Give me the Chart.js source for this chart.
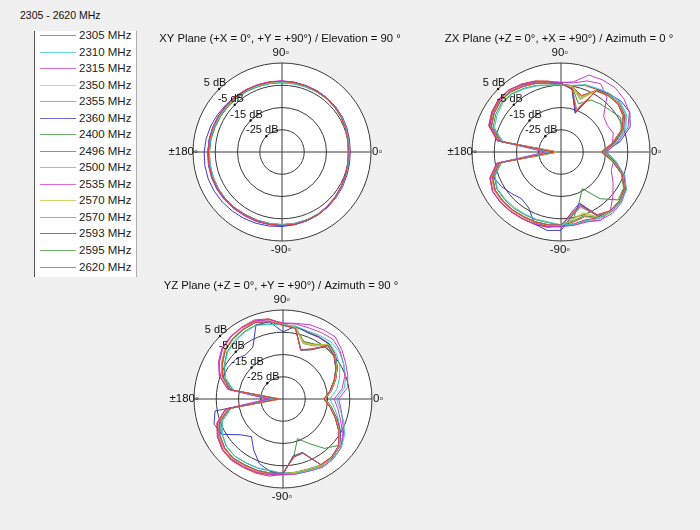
<!DOCTYPE html>
<html>
<head>
<meta charset="utf-8">
<script src="https://cdn.jsdelivr.net/npm/chart.js@4.4.0/dist/chart.umd.min.js"></script>
<style>
  body { margin: 0; background: #f0f0f0; font-family: "Liberation Sans", Arial, sans-serif; }
  #wrap { position: relative; width: 700px; height: 530px; overflow: hidden; }
  #band { position: absolute; left: 20px; top: 9px; font-size: 10.5px; color: #111; }
  #legend { position: absolute; left: 34px; top: 31px; width: 101px; height: 246px; background: #fff;
            border-left: 1px solid #555; border-right: 1px solid #aaa; overflow: hidden; }
  #legend .item { position: absolute; left: 0; height: 16px; font-size: 11.5px; color: #222; }
  #legend .sw { position: absolute; left: 5px; top: 8px; width: 36px; height: 1px; opacity: 0.75; }
  #legend .tx { position: absolute; left: 44px; top: 0; line-height: 16px; white-space: nowrap; }
  canvas { position: absolute; }
</style>
</head>
<body>
<div id="wrap">
  <div id="band">2305 - 2620 MHz</div>
  <div id="legend"></div>
  <canvas id="xy" width="280" height="250" style="left:142px;top:27px"></canvas>
  <canvas id="zx" width="280" height="250" style="left:421px;top:27px"></canvas>
  <canvas id="yz" width="280" height="250" style="left:143px;top:274px"></canvas>
</div>
<script>
// angles going clockwise from the top of each plot (deg)
var angles = [90,80,70,60,50,40,30,20,10,0,-10,-20,-30,-40,-50,-60,-70,-80,-90,-100,-110,-120,-130,-140,-150,-160,-170,180,170,160,150,140,130,120,110,100];
var freqLabels = ['2305 MHz','2310 MHz','2315 MHz','2350 MHz','2355 MHz','2360 MHz','2400 MHz','2496 MHz','2500 MHz','2535 MHz','2570 MHz','2570 MHz','2593 MHz','2595 MHz','2620 MHz'];
var lineColors = ['#e03c3c','#3cc8c8','#c83cc8','#c8c83c','#8c8c8c','#3c3cc8','#3c963c','#e03c3c','#3cc8c8','#c83cc8','#c8c83c','#8c8c8c','#3c3cc8','#3c963c','#e03c3c'];
var dbTicks = [5, -5, -15, -25];

// XY plane, dB
var xy2305 = [-3.2,-3.3,-3.4,-3.5,-3.6,-3.9,-4.2,-4.6,-5.0,-5.2,-5.0,-4.6,-4.1,-3.6,-3.0,-2.5,-2.3,-2.0,-2.0,-2.1,-2.2,-2.3,-2.1,-1.9,-1.7,-1.6,-1.7,-1.9,-2.0,-2.1,-2.3,-2.5,-2.7,-2.9,-3.0,-3.1];
var xy2310 = [-3.8,-3.9,-3.9,-3.8,-3.7,-3.8,-3.9,-4.3,-4.6,-4.8,-4.7,-4.4,-3.9,-3.4,-3.0,-2.7,-2.5,-2.4,-2.3,-2.3,-2.4,-2.4,-2.2,-2.0,-2.0,-2.1,-2.1,-2.3,-2.4,-2.6,-2.8,-3.0,-3.2,-3.3,-3.5,-3.7];
var xy2315 = [-3.0,-3.1,-3.3,-3.4,-3.5,-3.6,-3.8,-4.2,-4.6,-4.9,-4.9,-4.6,-4.2,-3.7,-3.2,-2.8,-2.5,-2.3,-2.1,-2.0,-1.9,-1.9,-1.8,-1.6,-1.5,-1.5,-1.6,-1.7,-1.8,-1.9,-2.1,-2.3,-2.4,-2.6,-2.8,-2.9];
var xy2350 = [-3.6,-3.6,-3.7,-3.8,-3.8,-4.0,-4.2,-4.6,-4.9,-5.1,-4.9,-4.5,-4.0,-3.5,-3.1,-2.7,-2.4,-2.3,-2.3,-2.2,-2.2,-2.1,-2.0,-1.9,-1.9,-1.9,-2.0,-2.1,-2.1,-2.3,-2.5,-2.7,-2.9,-3.1,-3.3,-3.5];
var xy2355 = [-3.4,-3.4,-3.5,-3.5,-3.6,-3.8,-4.1,-4.5,-4.9,-5.1,-4.8,-4.4,-3.9,-3.4,-2.9,-2.5,-2.3,-2.2,-2.2,-2.3,-2.3,-2.2,-2.0,-1.8,-1.7,-1.8,-1.9,-2.0,-2.0,-2.2,-2.4,-2.6,-2.8,-3.0,-3.2,-3.3];
var xy2360 = [-3.2,-3.2,-3.3,-3.3,-3.4,-3.5,-3.6,-3.9,-4.2,-4.3,-4.2,-4.0,-3.6,-3.2,-2.8,-2.4,-2.1,-1.8,-1.5,-1.2,-0.9,-0.6,-0.3,0.0,0.2,0.3,0.2,0.0,-0.4,-0.9,-1.5,-2.0,-2.4,-2.7,-3.0,-3.1];
var xy2400 = [-3.7,-3.7,-3.8,-3.8,-3.7,-3.8,-4.0,-4.4,-4.7,-4.9,-4.7,-4.3,-3.8,-3.4,-3.0,-2.6,-2.4,-2.3,-2.3,-2.3,-2.3,-2.3,-2.1,-1.9,-1.9,-2.0,-2.1,-2.3,-2.5,-2.8,-3.0,-3.2,-3.3,-3.4,-3.6,-3.7];
var xy2496 = [-3.3,-3.4,-3.4,-3.5,-3.5,-3.7,-4.0,-4.4,-4.8,-5.0,-4.9,-4.5,-4.0,-3.5,-3.0,-2.6,-2.3,-2.1,-2.1,-2.1,-2.1,-2.1,-1.9,-1.7,-1.7,-1.7,-1.8,-1.9,-2.0,-2.2,-2.3,-2.5,-2.7,-2.9,-3.1,-3.2];
var xy2500 = [-3.6,-3.7,-3.8,-3.7,-3.7,-3.9,-4.1,-4.5,-4.8,-5.0,-4.8,-4.5,-4.0,-3.5,-3.1,-2.7,-2.5,-2.4,-2.4,-2.4,-2.3,-2.3,-2.1,-1.9,-1.8,-1.8,-1.9,-2.1,-2.2,-2.4,-2.6,-2.8,-3.0,-3.2,-3.4,-3.5];
var xy2535 = [-3.1,-3.2,-3.3,-3.3,-3.4,-3.6,-3.9,-4.3,-4.7,-5.0,-4.9,-4.7,-4.3,-3.8,-3.3,-2.8,-2.5,-2.2,-2.0,-1.9,-1.8,-1.8,-1.7,-1.5,-1.4,-1.4,-1.5,-1.7,-1.8,-2.0,-2.2,-2.4,-2.5,-2.7,-2.9,-3.0];
var xy2570a = [-3.5,-3.6,-3.6,-3.7,-3.7,-3.9,-4.1,-4.5,-4.8,-5.0,-4.8,-4.4,-3.9,-3.4,-3.0,-2.6,-2.4,-2.3,-2.2,-2.2,-2.2,-2.2,-2.0,-1.8,-1.8,-1.8,-1.9,-2.0,-2.1,-2.3,-2.5,-2.7,-2.9,-3.1,-3.3,-3.4];
var xy2570b = [-3.4,-3.5,-3.5,-3.6,-3.6,-3.8,-4.0,-4.5,-4.9,-5.1,-4.9,-4.5,-4.0,-3.5,-3.0,-2.6,-2.3,-2.2,-2.1,-2.2,-2.2,-2.2,-2.0,-1.8,-1.8,-1.7,-1.8,-2.0,-2.0,-2.2,-2.4,-2.6,-2.8,-3.0,-3.2,-3.3];
var xy2593 = [-3.3,-3.3,-3.4,-3.4,-3.5,-3.7,-3.9,-4.3,-4.7,-4.9,-4.7,-4.3,-3.9,-3.4,-2.9,-2.5,-2.2,-2.0,-1.9,-1.9,-1.8,-1.8,-1.6,-1.4,-1.3,-1.3,-1.4,-1.6,-1.8,-2.0,-2.3,-2.5,-2.7,-2.9,-3.1,-3.2];
var xy2595 = [-3.9,-3.9,-3.9,-3.8,-3.8,-3.9,-4.1,-4.5,-4.8,-5.0,-4.8,-4.4,-3.9,-3.4,-3.0,-2.7,-2.5,-2.4,-2.4,-2.4,-2.4,-2.4,-2.2,-2.0,-2.0,-2.1,-2.2,-2.4,-2.6,-2.9,-3.1,-3.3,-3.4,-3.5,-3.7,-3.8];
var xy2620 = [-3.4,-3.4,-3.5,-3.5,-3.6,-3.8,-4.1,-4.6,-5.0,-5.2,-5.0,-4.6,-4.0,-3.5,-3.0,-2.6,-2.3,-2.1,-2.1,-2.1,-2.1,-2.1,-1.9,-1.7,-1.6,-1.6,-1.7,-1.9,-2.0,-2.2,-2.4,-2.6,-2.8,-3.0,-3.2,-3.3];

// ZX plane, dB
var zx2305 = [-4.3,-6.0,-15.5,-3.2,-1.8,-1.5,-2.6,-5.8,-11.0,-16.5,-11.5,-5.8,-2.0,-0.8,-0.5,-2.5,-9.5,-7.0,-2.2,-1.7,-1.5,-1.4,-1.0,-0.8,-0.7,-2.2,-6.8,-32,-7.2,-1.6,-0.2,0.6,0.3,-0.9,-2.1,-3.6];
var zx2310 = [-4.8,-4.6,-2.8,-2.0,-0.8,-0.2,-1.0,-4.0,-9.5,-15.0,-10.0,-4.5,-1.0,0.2,0.3,-0.5,-2.2,-2.0,-2.3,-3.0,-2.8,-2.7,-2.4,-2.2,-2.0,-3.5,-8.0,-30,-8.5,-3.2,-1.8,-0.8,-1.0,-2.2,-3.4,-4.6];
var zx2315 = [-3.8,-3.0,1.8,2.4,2.8,2.0,0.5,-3.0,-9.0,-14.5,-9.8,-4.8,-1.2,0.5,1.0,0.3,-1.5,-1.5,-1.6,-1.0,-0.6,-0.5,-0.1,0.2,0.4,-1.2,-6.0,-29,-6.2,-0.8,0.6,1.5,1.2,0.0,-1.4,-3.0];
var zx2350 = [-4.6,-5.2,-9.0,-3.0,-1.6,-1.2,-2.4,-5.5,-11.0,-16.0,-11.0,-5.4,-1.8,-0.4,-0.2,-1.0,-5.5,-4.0,-2.0,-1.5,-1.3,-1.2,-0.8,-0.6,-0.5,-1.9,-6.4,-33,-6.8,-1.4,0.1,0.9,0.5,-0.7,-1.9,-3.4];
var zx2355 = [-4.4,-5.8,-14.5,-3.4,-2.0,-1.6,-2.8,-6.2,-11.5,-17.0,-11.8,-6.0,-2.2,-0.9,-0.6,-2.0,-9.0,-6.5,-2.3,-1.8,-1.6,-1.5,-1.1,-0.9,-0.8,-2.3,-7.0,-34,-7.4,-1.8,-0.3,0.5,0.2,-1.0,-2.2,-3.7];
var zx2360 = [-4.0,-6.5,-16.5,-2.6,-1.0,0.4,0.7,-1.9,-8.0,-15.5,-10.5,-5.0,-1.5,-0.2,0.0,-1.5,-10.0,-6.0,0.2,0.8,-0.5,-6.0,-7.5,-6.0,-4.0,-2.5,-6.0,-31,-6.5,-0.8,0.4,1.0,0.5,-0.5,-1.6,-3.2];
var zx2400 = [-4.7,-5.0,-8.5,-3.2,-2.0,-1.4,-2.6,-6.0,-11.5,-16.5,-11.3,-5.9,-2.1,-0.7,-0.4,-1.2,-4.5,-3.5,-2.2,-2.7,-2.5,-2.4,-2.0,-1.8,-1.7,-3.1,-7.7,-32,-8.0,-2.6,-1.1,-0.3,-0.7,-1.9,-3.1,-4.5];
var zx2496 = [-4.4,-4.8,-3.2,-2.6,-1.4,-1.0,-2.0,-5.2,-10.5,-15.5,-10.8,-5.3,-1.6,-0.3,-0.1,-0.8,-2.6,-2.2,-1.9,-0.6,-0.4,-0.3,0.1,0.4,0.5,-1.0,-5.5,-33,-5.8,-0.4,1.0,1.8,1.5,0.3,-1.0,-2.6];
var zx2500 = [-4.9,-4.7,-3.0,-2.3,-1.0,-0.5,-1.4,-4.6,-10.0,-15.0,-10.2,-4.8,-1.3,0.0,0.2,-0.6,-2.4,-2.1,-2.2,-1.8,-1.6,-1.5,-1.1,-0.9,-0.8,-2.2,-6.8,-31,-7.2,-1.8,-0.3,0.5,0.3,-0.9,-2.2,-3.7];
var zx2535 = [-3.6,-3.5,-1.0,0.5,-3.0,-10.0,-11.0,-10.0,-11.5,-15.5,-11.0,-11.0,-8.0,-4.5,-0.5,0.5,-1.8,-1.8,-1.4,-0.8,-0.4,-0.3,0.1,0.4,0.6,-1.0,-5.8,-28,-6.0,-0.6,0.8,1.6,1.3,0.2,-1.2,-2.9];
var zx2570a = [-4.5,-5.4,-10.0,-3.4,-1.9,-1.5,-2.7,-5.9,-11.2,-16.2,-11.2,-5.6,-1.9,-0.6,-0.3,-1.3,-6.0,-4.5,-2.1,-1.6,-1.4,-1.3,-0.9,-0.7,-0.6,-2.0,-6.6,-32,-7.0,-1.5,0.0,0.8,0.4,-0.8,-2.0,-3.5];
var zx2570b = [-4.6,-5.5,-9.5,-3.1,-1.7,-1.3,-2.5,-5.7,-11.0,-16.0,-11.4,-5.8,-2.0,-0.7,-0.4,-1.8,-8.5,-6.0,-2.1,-1.6,-1.4,-1.3,-0.9,-0.7,-0.6,-2.1,-6.7,-33,-7.1,-1.6,0.0,0.8,0.4,-0.8,-2.0,-3.6];
var zx2593 = [-4.2,-6.2,-16.0,-3.0,-1.6,-1.0,-2.0,-5.0,-10.5,-16.5,-11.2,-5.5,-1.8,-0.5,-0.2,-2.2,-10.5,-7.5,-1.4,-1.0,-1.2,-1.4,-1.0,-0.8,-0.7,-2.1,-6.5,-32,-6.8,-1.3,0.2,0.9,0.4,-0.7,-1.9,-3.4];
var zx2595 = [-4.8,-5.5,-12.0,-8.0,-7.0,-6.0,-4.0,-6.2,-11.5,-17.0,-11.5,-6.0,-2.5,-1.5,-7.6,-16.0,-11.0,-4.0,-2.3,-1.8,-1.6,-1.5,-1.1,-0.9,-0.8,-2.3,-7.0,-31,-7.3,-1.7,-0.2,0.6,0.2,-1.0,-2.2,-3.8];
var zx2620 = [-4.4,-5.2,-8.0,-2.9,-1.5,-1.1,-2.2,-5.4,-10.8,-15.8,-10.9,-5.5,-1.7,-0.4,-0.1,-1.0,-4.0,-3.0,-1.9,-1.4,-1.2,-1.1,-0.7,-0.5,-0.4,-1.8,-6.3,-33,-6.7,-1.2,0.3,1.1,0.6,-0.6,-1.8,-3.3];

// YZ plane, dB
var yz2305 = [-1.8,-2.8,-11.5,-9.0,-3.5,-4.8,-7.5,-10.5,-13.5,-16.5,-13.5,-10.0,-6.0,-2.4,-1.0,-1.0,-9.0,-8.5,-1.6,-1.1,-0.8,-0.7,-0.2,-0.7,-2.2,-4.7,-10.2,-33,-11.2,-6.2,-3.4,-1.0,0.2,1.0,1.6,0.3];
var yz2310 = [-1.6,-1.8,-2.5,-2.0,-1.5,-2.0,-3.5,-5.0,-7.0,-11.0,-9.0,-6.0,-3.0,-0.8,0.0,0.2,-0.8,-1.0,-1.5,-2.4,-2.0,-1.9,-1.4,-1.9,-3.5,-6.0,-11.5,-31,-12.5,-7.6,-4.8,-2.5,-1.3,-0.4,0.2,-1.0];
var yz2315 = [-0.8,-0.5,0.5,1.0,1.5,-0.5,-2.5,-4.0,-5.5,-10.0,-8.5,-6.5,-3.5,-1.0,0.2,0.5,-0.5,-0.8,-1.0,-0.5,0.0,0.2,0.6,0.3,-1.4,-3.8,-9.0,-29,-10.0,-4.8,-1.8,0.5,1.5,2.0,2.2,1.2];
var yz2350 = [-1.5,-2.2,-8.0,-7.0,-3.0,-4.5,-7.0,-10.0,-13.0,-16.0,-13.0,-9.6,-5.6,-2.0,-0.8,-0.5,-1.4,-1.5,-1.4,-0.9,-0.6,-0.5,0.0,-0.5,-2.0,-4.5,-10.0,-33,-11.0,-6.0,-3.2,-0.8,0.3,1.2,1.8,0.5];
var yz2355 = [-1.7,-2.6,-11.8,-9.2,-3.6,-4.9,-7.4,-10.4,-13.4,-16.4,-13.2,-9.8,-5.8,-2.2,-0.9,-0.8,-9.4,-8.6,-1.6,-1.1,-0.7,-0.6,-0.1,-0.6,-2.1,-4.6,-10.1,-34,-11.1,-6.1,-3.3,-0.9,0.2,1.1,1.7,0.4];
var yz2360 = [-4.8,-1.8,-3.2,-3.0,-2.8,-4.2,-6.8,-10.0,-13.0,-16.0,-12.8,-9.2,-5.2,-1.8,-0.6,-0.8,-9.5,-9.0,-1.0,-2.0,-4.0,-8.6,-12.9,-10.0,-3.3,-2.0,-4.0,-31,-10.5,-6.3,-6.5,-7.3,-9.0,-8.0,0.5,0.2];
var yz2400 = [-1.6,-2.4,-7.5,-6.5,-3.2,-4.6,-7.2,-10.2,-13.2,-16.2,-13.1,-9.7,-5.7,-2.1,-0.9,-0.6,-1.5,-1.6,-1.5,-2.2,-1.9,-1.8,-1.3,-1.8,-3.3,-5.8,-11.0,-32,-12.0,-7.2,-4.5,-2.1,-1.0,-0.1,0.5,-0.8];
var yz2496 = [-1.4,-2.1,-2.8,-2.7,-2.7,-4.3,-6.8,-9.8,-12.8,-15.8,-12.8,-9.3,-5.3,-1.8,-0.6,-0.3,-1.2,-1.2,-1.2,0.2,0.5,0.6,1.1,0.6,-0.9,-3.3,-8.8,-33,-9.8,-4.8,-2.0,0.4,1.4,2.2,2.8,1.6];
var yz2500 = [-1.7,-2.3,-3.0,-2.6,-2.4,-3.5,-5.5,-8.0,-10.5,-14.0,-11.5,-8.5,-5.0,-1.9,-0.8,-0.5,-1.4,-1.5,-1.6,-1.2,-0.9,-0.8,-0.3,-0.8,-2.3,-4.8,-10.3,-31,-11.3,-6.4,-3.6,-1.2,0.0,0.9,1.5,0.2];
var yz2535 = [-1.0,-0.8,-1.0,-0.5,0.0,-1.5,-3.5,-5.5,-8.0,-12.0,-10.0,-7.5,-4.0,-1.0,0.0,0.3,-0.6,-0.8,-0.9,-0.4,0.1,0.3,0.7,0.5,-1.2,-3.6,-8.8,-28,-9.8,-4.5,-1.5,0.8,1.7,2.2,2.3,1.4];
var yz2570a = [-1.6,-2.3,-8.2,-7.2,-3.1,-4.6,-7.1,-10.1,-13.1,-16.1,-13.1,-9.6,-5.6,-2.0,-0.8,-0.5,-1.3,-1.4,-1.4,-0.9,-0.6,-0.5,0.0,-0.5,-2.0,-4.5,-10.0,-32,-11.0,-6.0,-3.2,-0.8,0.3,1.2,1.8,0.5];
var yz2570b = [-1.5,-2.4,-8.5,-7.5,-3.3,-4.7,-7.3,-10.3,-13.3,-16.3,-13.3,-9.8,-5.8,-2.2,-1.0,-0.7,-1.6,-1.6,-1.5,-1.0,-0.7,-0.6,-0.1,-0.6,-2.1,-4.6,-10.1,-33,-11.1,-6.1,-3.3,-0.9,0.2,1.1,1.7,0.4];
var yz2593 = [-1.9,-2.7,-11.7,-9.5,-3.7,-5.0,-7.5,-10.5,-13.5,-16.5,-13.4,-9.9,-5.9,-2.3,-1.0,-0.9,-9.2,-8.4,-1.7,-1.2,-0.8,-0.7,-0.2,-0.7,-2.2,-4.7,-10.2,-32,-11.2,-6.2,-3.4,-1.0,0.1,1.0,1.6,0.3];
var yz2595 = [-1.7,-2.5,-11.5,-9.0,-4.5,-5.2,-7.6,-10.6,-13.6,-16.6,-13.5,-10.0,-6.0,-2.5,-6.0,-12.0,-16.0,-8.0,-1.7,-1.2,-0.9,-0.8,-0.3,-0.8,-2.3,-4.8,-10.3,-31,-11.3,-6.3,-3.5,-1.1,0.1,1.0,1.6,0.3];
var yz2620 = [-1.4,-2.2,-7.8,-6.8,-2.9,-4.4,-6.9,-9.9,-12.9,-15.9,-12.9,-9.4,-5.4,-1.9,-0.7,-0.4,-1.3,-1.3,-1.3,-0.8,-0.5,-0.4,0.1,-0.4,-1.9,-4.4,-9.9,-33,-10.9,-5.9,-3.1,-0.7,0.4,1.3,1.9,0.6];

var xySeries = [xy2305, xy2310, xy2315, xy2350, xy2355, xy2360, xy2400, xy2496, xy2500, xy2535, xy2570a, xy2570b, xy2593, xy2595, xy2620];
var zxSeries = [zx2305, zx2310, zx2315, zx2350, zx2355, zx2360, zx2400, zx2496, zx2500, zx2535, zx2570a, zx2570b, zx2593, zx2595, zx2620];
var yzSeries = [yz2305, yz2310, yz2315, yz2350, yz2355, yz2360, yz2400, yz2496, yz2500, yz2535, yz2570a, yz2570b, yz2593, yz2595, yz2620];

// legend on the left (clipped at the top like the original list box)
var leg = document.getElementById('legend');
freqLabels.forEach(function (name, k) {
  var it = document.createElement('div');
  it.className = 'item';
  it.style.top = Math.round(-4 + k * 16.54) + 'px';
  it.innerHTML = '<span class="sw" style="background:' + lineColors[k] + '"></span><span class="tx">' + name + '</span>';
  leg.appendChild(it);
});

var FONT = '"Liberation Sans", Arial, sans-serif';

// titles, angle labels and dB labels drawn around each polar scale
var polarText = {
  id: 'polarText',
  afterDraw: function (chart, args, opts) {
    var s = chart.scales.r, ctx = chart.ctx;
    var cx = s.xCenter, cy = s.yCenter, R = s.drawingArea;
    ctx.save();
    ctx.fillStyle = '#111';
    ctx.textBaseline = 'middle';
    ctx.font = '11.3px ' + FONT;
    ctx.textAlign = 'center';
    ctx.fillText(opts.title, cx - 2, cy - R - 24);

    ctx.font = '11.5px ' + FONT;
    ctx.fillText('90\u25E6', cx - 1, cy - R - 10);
    ctx.fillText('-90\u25E6', cx - 1, cy + R + 9);
    ctx.textAlign = 'left';
    ctx.fillText('0\u25E6', cx + R + 1, cy);
    ctx.textAlign = 'right';
    ctx.fillText('\u00B1180\u25E6', cx - R + 5, cy);

    // dB rings are labelled along the 135 deg direction (index 31.5 clockwise from top)
    ctx.font = '11px ' + FONT;
    ctx.textAlign = 'center';
    dbTicks.forEach(function (v) {
      var p = s.getPointPosition(31.5, s.getDistanceFromCenterForValue(v));
      ctx.beginPath();
      ctx.arc(p.x, p.y, 1.2, 0, Math.PI * 2);
      ctx.fill();
      ctx.fillText(v + ' dB', p.x - 4, p.y - 6);
    });
    ctx.restore();
  }
};

function polarChart(id, title, series) {
  return new Chart(document.getElementById(id), {
    type: 'radar',
    data: {
      labels: angles,
      datasets: series.map(function (vals, k) {
        return {
          label: freqLabels[k],
          data: vals,
          borderColor: lineColors[k],
          borderWidth: 1,
          pointRadius: 0,
          fill: false,
          tension: 0
        };
      })
    },
    options: {
      responsive: false,
      animation: false,
      layout: { padding: { left: 51, right: 51, top: 36, bottom: 36 } },
      plugins: { legend: { display: false }, tooltip: { enabled: false }, polarText: { title: title } },
      scales: {
        r: {
          min: -35,
          max: 5,
          startAngle: 0,
          backgroundColor: '#ffffff',
          ticks: { display: false, stepSize: 10 },
          pointLabels: { display: false },
          grid: { circular: true, color: '#3a3a3a', lineWidth: 1 },
          angleLines: {
            lineWidth: 1,
            color: function (c) { return c.index % 9 === 0 ? '#3a3a3a' : 'rgba(0,0,0,0)'; }
          }
        }
      }
    },
    plugins: [polarText]
  });
}

polarChart('xy', 'XY Plane (+X = 0\u00B0, +Y = +90\u00B0) / Elevation = 90 \u00B0', xySeries);
polarChart('zx', 'ZX Plane (+Z = 0\u00B0, +X = +90\u00B0) / Azimuth = 0 \u00B0', zxSeries);
polarChart('yz', 'YZ Plane (+Z = 0\u00B0, +Y = +90\u00B0) / Azimuth = 90 \u00B0', yzSeries);
</script>
</body>
</html>
